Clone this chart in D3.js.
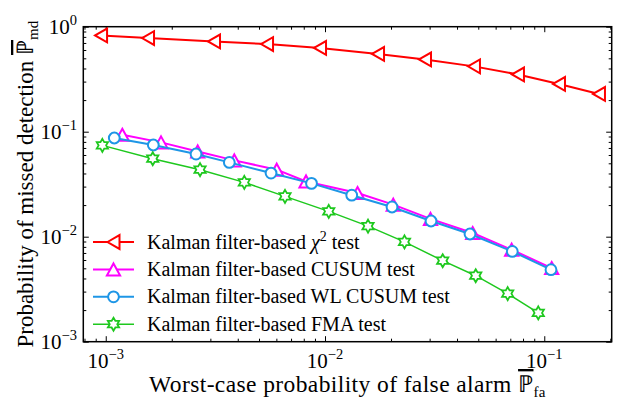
<!DOCTYPE html>
<html><head><meta charset="utf-8">
<script src="https://cdn.jsdelivr.net/npm/d3@7"></script>
<style>
html,body{margin:0;padding:0;background:#fff;}
text{font-family:"Liberation Serif","Times New Roman",serif;fill:#000;}
</style></head>
<body><svg id="chart" width="622" height="399"></svg>
<script>
// ---- data ----
const seriesNames = ["Kalman filter-based χ2 test","Kalman filter-based CUSUM test","Kalman filter-based WL CUSUM test","Kalman filter-based FMA test"];
const chi2X = [9.52e-4,1.559e-3,3.117e-3,5.44e-3,9.49e-3,0.01745,0.02858,0.04779,0.07586,0.1167,0.1776];
const chi2Y = [0.826,0.780,0.724,0.684,0.627,0.550,0.488,0.419,0.351,0.285,0.229];
const cusumX = [1.190e-3,1.787e-3,2.627e-3,3.858e-3,6.023e-3,8.194e-3,0.01407,0.02048,0.03028,0.04715,0.07101,0.1081];
const cusumY = [0.0936,0.0791,0.0649,0.0533,0.0435,0.0336,0.0261,0.0202,0.01477,0.01084,0.00752,0.00503];
const wlX = [1.094e-3,1.648e-3,2.581e-3,3.661e-3,5.673e-3,8.678e-3,0.01324,0.02021,0.03044,0.04584,0.07147,0.1073];
const wlY = [0.0871,0.0747,0.0613,0.0510,0.0404,0.0322,0.02485,0.01919,0.01411,0.01061,0.00724,0.00485];
const fmaX = [9.65e-4,1.638e-3,2.692e-3,4.285e-3,6.57e-3,0.01040,0.01571,0.02304,0.03441,0.04867,0.06809,0.09389];
const fmaY = [0.0741,0.0553,0.0435,0.0329,0.0242,0.01742,0.01262,0.00892,0.00591,0.00425,0.00287,0.00188];
const xMajor = [1e-3,1e-2,1e-1];
const xTickExp = ["−3","−2","−1"];
const yMajor = [1e-3,1e-2,1e-1,1];
const yTickExp = ["−3","−2","−1","0"];
const xDomain = [7.9e-4, 0.203];
const yDomain = [1e-3, 1];

// ---- layout ----
const L = 83.3, R = 611.7, T = 26.7, B = 341.7;
const svg = d3.select("#chart");
const x = d3.scaleLog().domain(xDomain).range([L, R]);
const y = d3.scaleLog().domain(yDomain).range([B, T]);

const xMinor = x.ticks().filter(v => !xMajor.some(m => Math.abs(m - v) / m < 1e-6));
const yMinor = y.ticks().filter(v => !yMajor.some(m => Math.abs(m - v) / m < 1e-6));

function tickAxis(axisFn, scale, vals, size, transform) {
  const g = svg.append("g").attr("transform", transform)
    .call(axisFn(scale).tickValues(vals).tickSize(size).tickFormat(""));
  g.select(".domain").remove();
  g.selectAll(".tick line").attr("stroke", "#000").attr("stroke-width", 1);
}
// inward ticks on all four sides
tickAxis(d3.axisBottom, x, xMajor, -5.5, `translate(0,${B})`);
tickAxis(d3.axisBottom, x, xMinor, -3, `translate(0,${B})`);
tickAxis(d3.axisTop, x, xMajor, -5.5, `translate(0,${T})`);
tickAxis(d3.axisTop, x, xMinor, -3, `translate(0,${T})`);
tickAxis(d3.axisLeft, y, yMajor, -5.5, `translate(${L},0)`);
tickAxis(d3.axisLeft, y, yMinor, -3, `translate(${L},0)`);
tickAxis(d3.axisRight, y, yMajor, -5.5, `translate(${R},0)`);
tickAxis(d3.axisRight, y, yMinor, -3, `translate(${R},0)`);

// tick labels
xMajor.forEach((v, i) => {
  const t = svg.append("text").attr("x", x(v)).attr("y", 368).attr("text-anchor", "middle").attr("font-size", 21);
  t.append("tspan").text("10");
  t.append("tspan").attr("dy", -9).attr("font-size", 14.5).text(xTickExp[i]);
});
yMajor.forEach((v, i) => {
  const t = svg.append("text").attr("x", 77).attr("y", y(v) + 7).attr("text-anchor", "end").attr("font-size", 21);
  t.append("tspan").text("10");
  t.append("tspan").attr("dy", -9).attr("font-size", 14.5).text(yTickExp[i]);
});

// frame
svg.append("rect").attr("x", L).attr("y", T).attr("width", R - L).attr("height", B - T)
  .attr("fill", "none").attr("stroke", "#000").attr("stroke-width", 1.5);

// axis labels
const xl = svg.append("text").attr("x", (L + R) / 2).attr("y", 392).attr("text-anchor", "middle")
  .attr("font-size", 23.5).attr("letter-spacing", 0.4);
xl.append("tspan").text("Worst-case probability of false alarm ");
xl.append("tspan").attr("style", "text-decoration:overline").text("ℙ");
xl.append("tspan").attr("font-size", 15).attr("dy", 5).text("fa");

const yl = svg.append("text").attr("transform", `translate(33,${(T + B) / 2}) rotate(-90)`).attr("text-anchor", "middle").attr("font-size", 23);
yl.append("tspan").text("Probability of missed detection ");
yl.append("tspan").attr("style", "text-decoration:overline").text("ℙ");
yl.append("tspan").attr("font-size", 15).attr("dy", 5).text("md");

// markers
const sym = {
  left: (s) => `M${-s},0L${s},${-s * 1.15}L${s},${s * 1.15}Z`,
  up: (s) => `M0,${-s}L${s * 1.1},${s}L${-s * 1.1},${s}Z`,
  circle: (s) => `M${s},0A${s},${s} 0 1,1 ${-s},0A${s},${s} 0 1,1 ${s},0Z`,
  hex: (s) => {
    const pts = [];
    for (let k = 0; k < 12; k++) {
      const r = k % 2 === 0 ? s : s / Math.sqrt(3);
      const a = -Math.PI / 2 + k * Math.PI / 6;
      pts.push([r * Math.cos(a), r * Math.sin(a)]);
    }
    return "M" + pts.map(p => p[0].toFixed(2) + "," + p[1].toFixed(2)).join("L") + "Z";
  }
};

const series = [
  {xs: chi2X, ys: chi2Y, color: "#ff0000", lw: 2, m: "left", ms: 6, mw: 2},
  {xs: cusumX, ys: cusumY, color: "#ff00ff", lw: 2, m: "up", ms: 6, mw: 2},
  {xs: wlX, ys: wlY, color: "#1e96e6", lw: 2, m: "circle", ms: 5.4, mw: 2},
  {xs: fmaX, ys: fmaY, color: "#1ec81e", lw: 1.5, m: "hex", ms: 6.5, mw: 1.8}
];
const line = d3.line().x(d => x(d[0])).y(d => y(d[1]));
series.forEach(s => {
  const pts = s.xs.map((v, i) => [v, s.ys[i]]);
  svg.append("path").datum(pts).attr("d", line).attr("fill", "none").attr("stroke", s.color).attr("stroke-width", s.lw);
  svg.append("g").selectAll("path").data(pts).join("path")
    .attr("transform", d => `translate(${x(d[0])},${y(d[1])})`)
    .attr("d", sym[s.m](s.ms)).attr("fill", "#fff").attr("stroke", s.color).attr("stroke-width", s.mw);
});

// legend
const legY0 = 242, legStep = 27.4;
series.forEach((s, i) => {
  const yy = legY0 + i * legStep;
  svg.append("line").attr("x1", 93).attr("x2", 134).attr("y1", yy).attr("y2", yy).attr("stroke", s.color).attr("stroke-width", s.lw);
  svg.append("path").attr("transform", `translate(113.5,${yy})`).attr("d", sym[s.m](s.ms))
    .attr("fill", "#fff").attr("stroke", s.color).attr("stroke-width", s.mw);
  const t = svg.append("text").attr("x", 147).attr("y", yy + 6.5).attr("font-size", 20);
  if (i === 0) {
    t.append("tspan").text("Kalman filter-based ");
    t.append("tspan").attr("font-style", "italic").text("χ");
    t.append("tspan").attr("font-size", 14).attr("dy", -8).text("2");
    t.append("tspan").attr("dy", 8).text(" test");
  } else {
    t.text(seriesNames[i]);
  }
});
</script></body></html>
